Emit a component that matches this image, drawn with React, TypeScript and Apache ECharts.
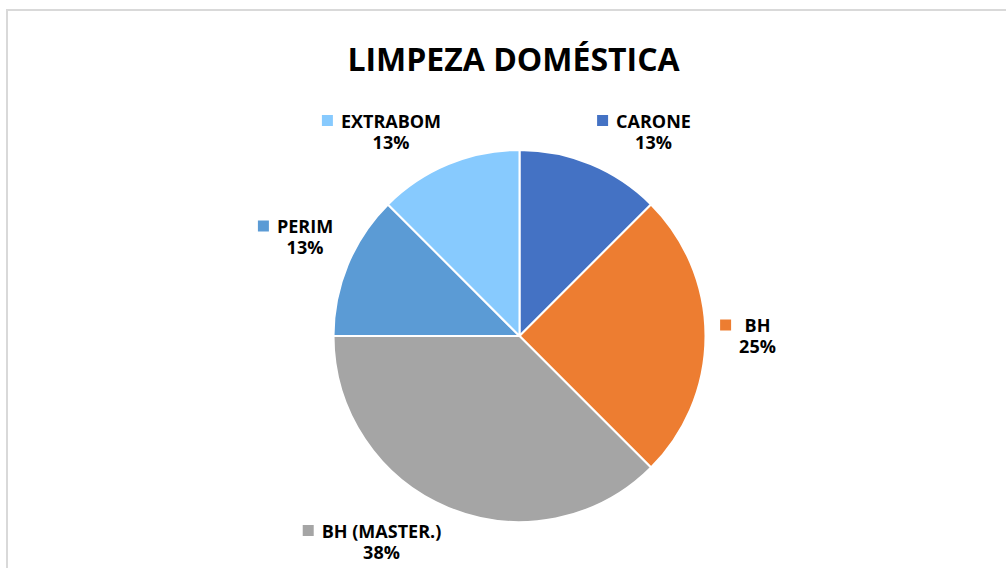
import React, { useEffect, useRef } from "react";
import * as echarts from "echarts";

const TITLE = "LIMPEZA DOMÉSTICA";
const categories = ["CARONE", "BH", "BH (MASTER.)", "PERIM", "EXTRABOM"];
const values = [1, 2, 3, 1, 1];
const percentLabels = ["13%", "25%", "38%", "13%", "13%"];
const colors = ["#4472C4", "#ED7D31", "#A5A5A5", "#5B9BD5", "#87CAFE"];
// centre of each label's text block (layout, not data)
const labelCenters: [number, number][] = [
  [653.5, 131],
  [757.5, 335.5],
  [381.5, 541],
  [305, 236.5],
  [391, 131],
];

const FONT = "'Open Sans', 'Noto Sans', sans-serif";
const LABEL_SIZE = 18;
const LINE_H = 21;
const SQ = 11;
const GAP = 8;

function measure(text: string): number {
  const ctx = document.createElement("canvas").getContext("2d");
  if (!ctx) return text.length * 10;
  ctx.font = `bold ${LABEL_SIZE}px ${FONT}`;
  return ctx.measureText(text).width;
}

export default function App() {
  const ref = useRef<HTMLDivElement>(null);
  useEffect(() => {
    if (!ref.current) return;
    const chart = echarts.init(ref.current, undefined, { renderer: "svg" });
    const data = categories.map((name, i) => ({
      name,
      value: values[i],
      itemStyle: { color: colors[i] },
    }));
    const keys = categories.map((name, i) => {
      const w = Math.max(measure(name), measure(percentLabels[i]));
      const [cx, cy] = labelCenters[i];
      return {
        type: "rect",
        silent: true,
        shape: { x: cx - w / 2 - GAP - SQ, y: cy - LINE_H / 2 - SQ / 2, width: SQ, height: SQ },
        style: { fill: colors[i] },
      };
    });
    chart.setOption({
      animation: false,
      backgroundColor: "#fff",
      graphic: [
        {
          type: "rect",
          shape: { x: 7, y: 10, width: 1100, height: 700 },
          style: { fill: "none", stroke: "#d9d9d9", lineWidth: 2 },
          silent: true,
        },
        {
          type: "text",
          x: 513.5,
          y: 58,
          style: {
            text: TITLE,
            align: "center",
            verticalAlign: "middle",
            fontFamily: FONT,
            fontSize: 32,
            fontWeight: "bold",
            fill: "#000",
          },
        },
        ...keys,
      ],
      series: [
        {
          type: "pie",
          center: [519.5, 336],
          radius: 186,
          startAngle: 90,
          clockwise: true,
          itemStyle: { borderColor: "#fff", borderWidth: 2 },
          label: {
            show: true,
            position: "inside",
            formatter: (p: any) => `${p.name}\n${percentLabels[p.dataIndex]}`,
            fontFamily: FONT,
            fontSize: LABEL_SIZE,
            fontWeight: "bold",
            color: "#000",
            lineHeight: LINE_H,
            align: "center",
            verticalAlign: "middle",
          },
          labelLine: { show: false },
          emphasis: { disabled: true },
          labelLayout: (params: any) => {
            const c = labelCenters[params.dataIndex];
            return { x: c[0], y: c[1], align: "center", verticalAlign: "middle" };
          },
          data,
        },
      ],
    });
    return () => chart.dispose();
  }, []);
  return (
    <div
      ref={ref}
      style={{ position: "fixed", left: 0, top: 0, width: 1006, height: 568 }}
    />
  );
}
